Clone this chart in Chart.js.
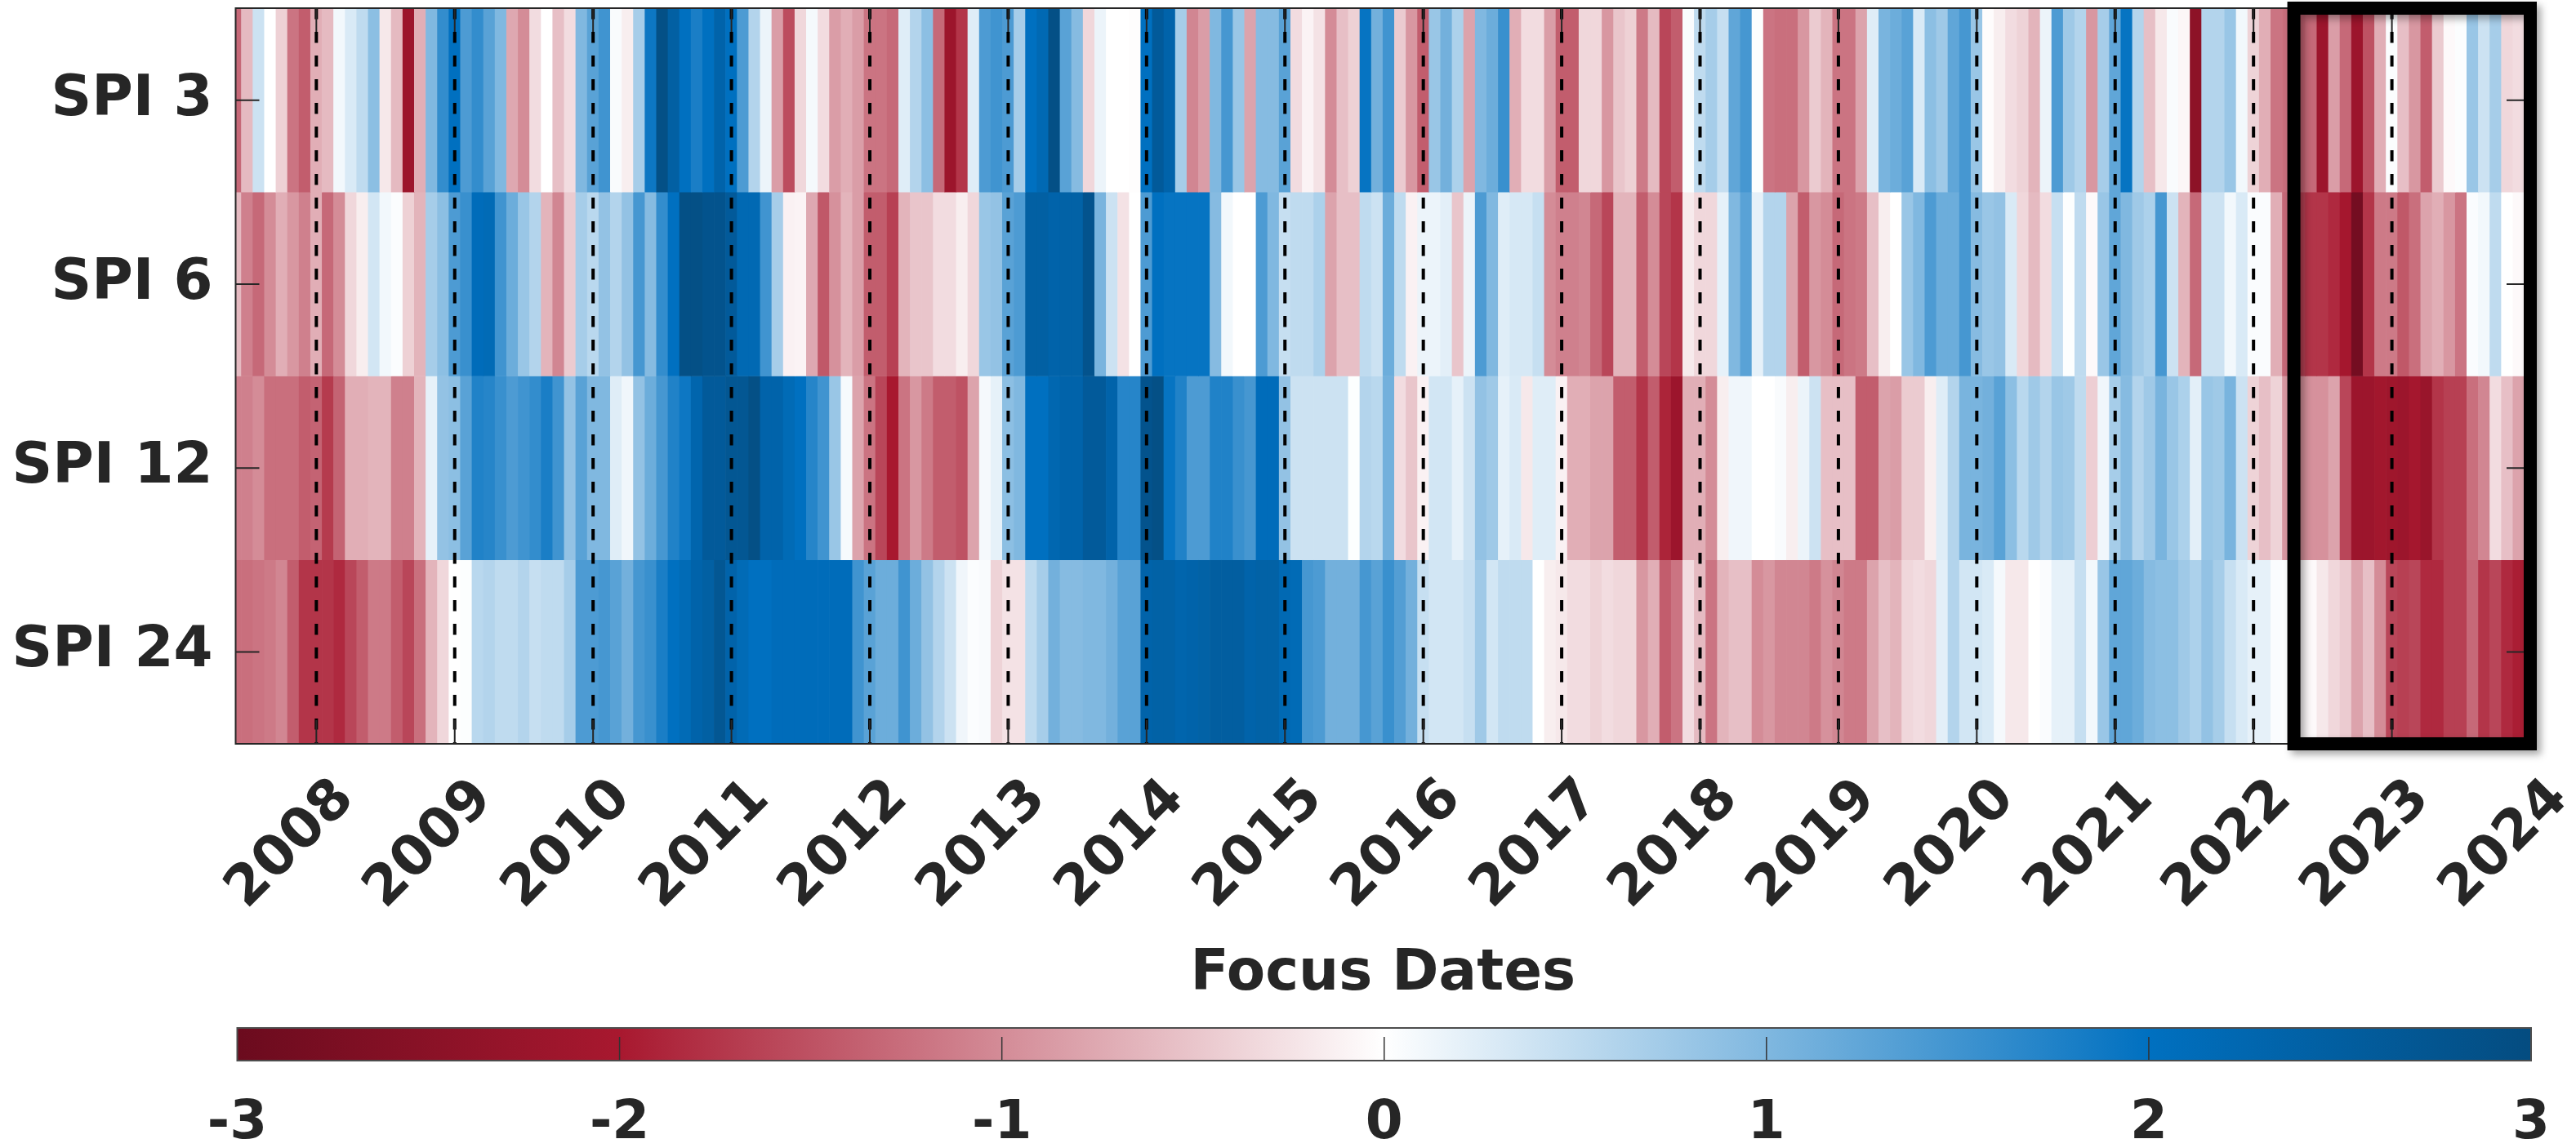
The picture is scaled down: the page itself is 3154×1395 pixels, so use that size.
<!DOCTYPE html>
<html>
<head>
<meta charset="utf-8">
<title>SPI heatmap</title>
<script src="https://cdn.jsdelivr.net/npm/chart.js@4.4.0/dist/chart.umd.min.js"></script>
<style>
  html, body { margin: 0; padding: 0; background: #ffffff; }
  #page { position: relative; width: 3154px; height: 1395px; overflow: hidden; }
  #mainBox { position: absolute; left: 0; top: 0; width: 3154px; height: 1240px; }
  #barBox { position: absolute; left: 0; top: 1240px; width: 3154px; height: 155px; }
</style>
</head>
<body>
<div id="page">
  <div id="mainBox"><canvas id="main" width="3154" height="1240"></canvas></div>
  <div id="barBox"><canvas id="bar" width="3154" height="155"></canvas></div>
</div>
<script>
// ---- data -------------------------------------------------------------
const rowLabels = ['SPI 3', 'SPI 6', 'SPI 12', 'SPI 24'];
const yearLabels = ['2008', '2009', '2010', '2011', '2012', '2013', '2014', '2015',
  '2016', '2017', '2018', '2019', '2020', '2021', '2022', '2023', '2024'];
const firstYear = 2007;      // column 0 is June 2007
const firstMonth = 6;
const highlightYear = 2022;  // boxed period starts May 2022
const highlightMonth = 5;
const colorbarTicks = [-3, -2, -1, 0, 1, 2, 3];

// monthly SPI values, June 2007 .. December 2023
const spi3 = [
  -1.3, -0.6, 0.4, 0.0, -0.4, -1.2, -1.4, -0.7, -0.6, 0.1, 0.3, 0.5, 0.9, -0.2, -0.6, -2.2, -0.7, 1.0, 1.6, 2.0,
  1.4, 1.6, 1.3, 1.0, -0.75, -1.0, -0.3, 0.0, -0.55, -0.3, 1.0, 1.3, 1.5, 0.05, -0.15, 0.7, 1.9, 2.9, 2.45, 2.0,
  1.8, 2.0, 2.35, 2.0, 1.4, 0.6, 0.15, -0.85, -1.55, -0.35, 0.08, -0.3, -0.85, -0.7, -0.85, -1.2, -1.2, -1.3, 0.25, 0.6,
  0.9, -1.3, -2.2, -1.75, 0.25, 1.4, 1.5, 1.4, 0.7, 2.0, 2.2, 2.9, 1.3, 0.95, -0.35, 0.15, 0.0, 0.0, -0.02, 2.0,
  2.6, 2.35, 0.7, -1.05, -0.85, 1.0, 1.45, 0.8, -0.8, 0.95, 0.95, 1.3, -0.3, -0.1, -0.25, -1.0, -0.55, -0.4, 1.95, 1.1,
  1.5, -0.45, -0.9, -1.4, 0.8, 1.1, 0.65, -0.8, 1.0, 1.15, 1.55, -0.7, -0.3, -0.3, -0.85, -1.4, -1.4, -0.35, -0.35, -0.9,
  -0.5, -0.4, -1.15, -0.6, -1.6, -1.4, 0.05, 0.5, 0.7, 0.45, 1.25, 1.45, 0.02, -1.2, -1.25, -1.25, -0.9, -0.45, -0.65, -1.2,
  -1.2, -0.8, 0.25, 1.05, 1.15, 1.3, 0.3, 0.9, 0.75, 1.25, 1.45, 0.8, -0.03, -0.15, -0.3, -0.38, -0.65, 0.15, 1.4, 0.75,
  0.6, -0.9, 0.7, 1.25, 1.95, 0.6, -0.55, -0.2, 0.05, -0.08, -2.45, 0.6, 0.6, 0.8, 0.1, -0.38, -0.7, -1.2, -1.25, -1.35,
  -1.3, -2.2, -0.85, -1.3, -2.2, -1.5, -0.7, 0.03, -0.55, -0.9, -1.4, -0.45, -0.05, 0.03, 0.8, 0.4, 0.7, -0.35, -0.3
];
const spi6 = [
  -0.6, -1.1, -1.3, -1.0, -0.7, -0.9, -1.1, -0.7, -1.3, -1.0, -0.35, -0.15, 0.35, 0.1, 0.03, -0.4, -0.65, 0.7, 0.9, 1.4,
  1.55, 2.1, 2.15, 1.5, 1.15, 0.8, 0.6, -0.65, -1.05, -0.45, 0.7, 0.55, 0.85, 0.6, 0.85, 1.45, 0.95, 1.6, 2.0, 2.9,
  2.9, 2.8, 2.8, 2.6, 2.2, 2.2, 1.5, 0.7, -0.12, -0.1, -0.75, -1.45, -0.95, -0.65, -0.85, -1.4, -1.4, -1.65, -0.65, -0.5,
  -0.5, -0.3, -0.3, -0.15, -0.35, 0.8, 0.85, 1.3, 1.4, 2.45, 2.45, 2.35, 2.4, 2.4, 2.8, 1.05, 0.4, -0.25, 0.0, 1.4,
  2.0, 1.95, 1.95, 1.95, 1.95, 0.95, 0.1, 0.0, 0.0, 1.4, 1.0, 0.45, 0.5, 0.5, 0.65, -0.8, -0.55, -0.55, 0.5, 0.4,
  1.15, 0.5, -0.12, 0.15, 0.15, 0.22, -0.5, 0.15, 1.4, 1.0, 0.25, 0.32, 0.32, 0.45, -1.0, -1.1, -1.1, -1.05, -1.3, -1.6,
  -0.65, -0.65, -1.4, -1.0, -1.6, -1.75, -0.18, -0.35, -0.35, 0.2, 1.0, 1.3, 0.2, 0.6, 0.6, -0.8, -1.4, -0.9, -1.0, -1.3,
  -1.2, -1.15, -0.55, -0.15, 0.0, 0.8, 1.0, 1.4, 1.15, 1.15, 1.45, 0.95, 0.8, 0.85, 0.3, -0.35, -0.6, -0.3, 0.45, 0.02,
  0.5, -0.05, 0.8, 1.25, 1.0, 0.75, 0.65, 1.45, 0.4, -0.65, -1.3, 0.4, 0.4, 0.1, 0.3, 0.04, 0.04, -0.7, -1.3, -1.65,
  -1.75, -1.75, -1.85, -2.05, -2.85, -1.75, -1.15, -1.15, -1.45, -1.25, -0.8, -0.7, -0.9, -1.2, 0.04, 0.1, 0.5, 0.0, -0.05
];
const spi12 = [
  -1.1, -1.1, -1.0, -1.25, -1.25, -1.25, -1.4, -1.35, -1.7, -1.35, -0.7, -0.7, -0.65, -0.65, -1.1, -1.1, -0.65, 0.2, 0.85, 0.9,
  1.3, 1.75, 1.7, 1.55, 1.4, 1.5, 1.6, 1.8, 1.5, 0.85, 1.3, 1.0, 1.0, 0.25, 0.12, 0.85, 1.15, 1.45, 1.75, 1.9,
  2.3, 2.6, 2.6, 2.7, 2.7, 2.9, 2.35, 2.35, 2.15, 2.0, 1.7, 1.5, 0.8, 0.07, -0.8, -1.2, -1.6, -2.0, -1.2, -0.9,
  -1.15, -1.4, -1.4, -1.5, -0.8, 0.08, 0.2, 0.9, 1.0, 2.0, 2.0, 2.25, 2.35, 2.35, 2.6, 2.6, 2.35, 1.7, 1.7, 2.8,
  2.9, 1.95, 1.75, 1.4, 1.4, 1.75, 1.75, 1.55, 1.45, 2.1, 2.1, 0.85, 0.4, 0.4, 0.4, 0.4, 0.4, 0.02, 0.6, 0.55,
  1.1, -0.3, -0.5, -0.12, 0.35, 0.35, 0.2, 0.4, 0.85, 0.75, 0.2, 0.3, -0.2, 0.25, 0.25, -0.12, -0.7, -0.7, -0.8, -0.8,
  -1.4, -1.4, -1.75, -1.4, -1.9, -2.2, -0.7, -0.7, -1.0, -0.15, 0.12, 0.12, 0.0, 0.0, 0.05, -0.15, 0.15, 0.4, -0.55, -0.55,
  -0.55, -1.4, -1.4, -0.8, -0.85, -0.45, -0.45, -0.15, 0.25, 0.6, 1.05, 1.05, 1.1, 1.3, 0.9, 0.55, 0.75, 0.6, 0.8, 0.75,
  0.5, -0.42, 0.12, 0.7, 0.95, 0.6, 0.75, 1.05, 0.8, 0.65, 0.22, 0.8, 0.75, 1.05, 0.4, -0.38, -0.55, -0.38, -0.9, -0.95,
  -0.95, -0.95, -0.8, -1.6, -2.2, -2.2, -2.1, -2.15, -2.2, -2.05, -2.25, -1.75, -1.65, -1.65, -1.25, -1.05, -0.3, -0.55, -0.8
];
const spi24 = [
  -1.25, -1.25, -1.2, -1.15, -1.05, -1.4, -1.75, -1.75, -1.75, -1.85, -1.6, -1.4, -1.15, -1.15, -1.4, -1.6, -1.25, -0.65, -0.35, 0.0,
  0.02, 0.55, 0.6, 0.5, 0.5, 0.6, 0.45, 0.5, 0.5, 0.7, 1.4, 1.4, 1.45, 1.3, 1.1, 1.45, 1.55, 1.8, 2.0, 2.15,
  2.35, 2.45, 2.7, 2.35, 2.15, 2.0, 2.0, 2.1, 2.1, 2.1, 2.1, 2.1, 2.1, 2.1, 1.5, 1.3, 1.15, 1.15, 1.5, 1.15,
  0.85, 0.6, 0.4, 0.12, 0.03, 0.05, -0.38, -0.25, -0.25, 0.5, 0.7, 1.1, 0.95, 0.95, 1.0, 1.0, 1.1, 1.3, 1.3, 2.35,
  2.4, 2.4, 2.3, 2.35, 2.4, 2.5, 2.5, 2.5, 2.35, 2.4, 2.4, 2.2, 2.15, 1.45, 1.4, 1.1, 1.1, 1.1, 1.45, 1.3,
  1.55, 1.35, 1.1, 0.45, 0.35, 0.35, 0.35, 0.45, 0.75, 0.35, 0.5, 0.5, 0.5, 0.0, -0.15, -0.2, -0.3, -0.3, -0.38, -0.3,
  -0.35, -0.35, -0.9, -0.7, -1.4, -1.2, -0.3, -0.6, -1.2, -0.65, -0.55, -0.55, -1.0, -0.9, -1.05, -1.05, -1.05, -1.15, -0.95, -1.05,
  -1.15, -1.15, -0.8, -0.55, -0.65, -0.35, -0.3, -0.35, 0.22, 0.6, 0.35, 0.35, 0.3, 0.08, -0.2, -0.2, 0.0, 0.04, 0.2, 0.2,
  0.45, 0.1, 0.8, 1.25, 1.25, 1.15, 0.95, 0.9, 0.9, 0.75, 0.65, 0.85, 0.7, 0.45, 0.3, 0.2, 0.2, 0.04, 0.03, -0.05,
  -0.05, -0.2, -0.35, -0.45, -0.8, -0.55, -1.0, -1.6, -1.65, -1.6, -1.85, -1.85, -1.65, -1.65, -1.3, -1.75, -1.6, -1.85, -1.95
];
const rows = [spi3, spi6, spi12, spi24];

// ---- helpers ----------------------------------------------------------
function monthIndex(year, month) {
  return (year - firstYear) * 12 + (month - firstMonth);
}
const yearTicks = yearLabels.map(lbl => ({ value: monthIndex(Number(lbl), 1), label: lbl }));
const xMax = yearTicks[yearTicks.length - 1].value;
const boxStart = monthIndex(highlightYear, highlightMonth) - 0.5;

// diverging red-white-blue colour scale for SPI
const cmap = [
  [-3, [107, 11, 30]],
  [-2, [168, 24, 47]],
  [0, [255, 255, 255]],
  [2, [0, 112, 192]],
  [3, [4, 76, 128]]
];
function colorFor(v) {
  const c = Math.max(-3, Math.min(3, v));
  for (let i = 0; i < cmap.length - 1; i++) {
    const [v0, c0] = cmap[i];
    const [v1, c1] = cmap[i + 1];
    if (c <= v1) {
      const t = (c - v0) / (v1 - v0);
      const rgb = c0.map((ch, k) => Math.round(ch + (c1[k] - ch) * t));
      return `rgb(${rgb[0]},${rgb[1]},${rgb[2]})`;
    }
  }
  const last = cmap[cmap.length - 1][1];
  return `rgb(${last[0]},${last[1]},${last[2]})`;
}

const FONT = '"DejaVu Sans", "Liberation Sans", sans-serif';
const INK = '#262626';

// ---- heatmap ----------------------------------------------------------
const datasets = rows.map((vals, r) => ({
  label: rowLabels[r],
  data: vals.map((v, i) => ({ x: [i - 0.5, i + 0.5], y: rowLabels[r], v })),
  backgroundColor: ctx => (ctx.raw ? colorFor(ctx.raw.v) : '#fff'),
  borderWidth: 0,
  borderSkipped: false,
  barPercentage: 1,
  categoryPercentage: 1,
  grouped: false
}));

const overlay = {
  id: 'overlay',
  afterDatasetsDraw(chart) {
    const { ctx, chartArea: a, scales: { x, y } } = chart;
    ctx.save();
    // year separators
    ctx.strokeStyle = '#000';
    ctx.lineWidth = 4;
    ctx.setLineDash([13.5, 15.5]);
    yearTicks.forEach(t => {
      if (t.value >= x.max) return;
      const px = x.getPixelForValue(t.value);
      ctx.beginPath();
      ctx.moveTo(px, a.top);
      ctx.lineTo(px, a.bottom);
      ctx.stroke();
    });
    ctx.setLineDash([]);
    // inner tick marks
    ctx.strokeStyle = INK;
    ctx.lineWidth = 2;
    const tl = 29;
    yearTicks.forEach(t => {
      const px = x.getPixelForValue(t.value);
      ctx.beginPath();
      ctx.moveTo(px, a.bottom); ctx.lineTo(px, a.bottom - tl);
      ctx.moveTo(px, a.top); ctx.lineTo(px, a.top + tl);
      ctx.stroke();
    });
    rowLabels.forEach((lbl, i) => {
      const py = y.getPixelForValue(i);
      ctx.beginPath();
      ctx.moveTo(a.left, py); ctx.lineTo(a.left + tl, py);
      ctx.moveTo(a.right, py); ctx.lineTo(a.right - tl, py);
      ctx.stroke();
    });
    // axes frame
    ctx.lineWidth = 2;
    ctx.strokeRect(a.left, a.top, a.right - a.left, a.bottom - a.top);
    // highlighted period
    const bx0 = x.getPixelForValue(boxStart);
    const bx1 = x.getPixelForValue(xMax);
    ctx.shadowColor = 'rgba(0,0,0,0.35)';
    ctx.shadowBlur = 10;
    ctx.shadowOffsetX = 5;
    ctx.shadowOffsetY = 5;
    ctx.strokeStyle = '#000';
    ctx.lineWidth = 16;
    ctx.strokeRect(bx0, a.top, bx1 - bx0, a.bottom - a.top);
    ctx.restore();
  }
};

new Chart(document.getElementById('main'), {
  type: 'bar',
  data: { labels: rowLabels, datasets },
  options: {
    responsive: false,
    animation: false,
    devicePixelRatio: 1,
    indexAxis: 'y',
    layout: { padding: { left: 0, top: 10, right: 56, bottom: 0 } },
    plugins: { legend: { display: false }, tooltip: { enabled: false } },
    scales: {
      x: {
        type: 'linear',
        min: 0,
        max: xMax,
        grid: { display: false },
        border: { display: false },
        afterBuildTicks: s => { s.ticks = yearTicks.map(t => ({ value: t.value })); },
        afterFit: s => { s.height = 329; s.paddingLeft = 0; s.paddingRight = 0; },
        ticks: {
          autoSkip: false,
          minRotation: 45,
          maxRotation: 45,
          padding: 20,
          labelOffset: 36,
          color: INK,
          font: { family: FONT, weight: 'bold', size: 68 },
          callback: v => {
            const t = yearTicks.find(k => k.value === v);
            return t ? t.label : '';
          }
        },
        title: {
          display: true,
          text: 'Focus Dates',
          color: INK,
          font: { family: FONT, weight: 'bold', size: 69 },
          padding: { top: 0, bottom: 5 }
        }
      },
      y: {
        type: 'category',
        grid: { display: false },
        border: { display: false },
        afterFit: s => { s.width = 288.5; s.paddingTop = 0; s.paddingBottom = 0; },
        ticks: {
          padding: 20,
          color: INK,
          font: { family: FONT, weight: 'bold', size: 69 }
        }
      }
    }
  },
  plugins: [overlay]
});

// ---- colour bar -------------------------------------------------------
const colorbarFrame = {
  id: 'colorbarFrame',
  afterDatasetsDraw(chart) {
    const { ctx, chartArea: a, scales: { x } } = chart;
    ctx.save();
    ctx.strokeStyle = '#333';
    ctx.lineWidth = 1.5;
    colorbarTicks.forEach(v => {
      if (v === x.min || v === x.max) return;
      const px = x.getPixelForValue(v);
      ctx.beginPath();
      ctx.moveTo(px, a.bottom); ctx.lineTo(px, a.bottom - 29);
      ctx.stroke();
    });
    ctx.strokeStyle = '#4d4d4d';
    ctx.lineWidth = 2;
    ctx.strokeRect(a.left, a.top, a.right - a.left, a.bottom - a.top);
    ctx.restore();
  }
};

function gradientFill(context) {
  const chart = context.chart;
  const x = chart.scales.x;
  if (!chart.chartArea || !x) return '#fff';
  const x0 = x.getPixelForValue(x.min);
  const x1 = x.getPixelForValue(x.max);
  const g = chart.ctx.createLinearGradient(x0, 0, x1, 0);
  const span = x.max - x.min;
  cmap.forEach(([v, c]) => g.addColorStop((v - x.min) / span, `rgb(${c[0]},${c[1]},${c[2]})`));
  return g;
}

new Chart(document.getElementById('bar'), {
  type: 'bar',
  data: {
    labels: ['SPI'],
    datasets: [{
      data: [{ x: [colorbarTicks[0], colorbarTicks[colorbarTicks.length - 1]], y: 'SPI' }],
      backgroundColor: gradientFill,
      borderWidth: 0,
      barPercentage: 1,
      categoryPercentage: 1
    }]
  },
  options: {
    responsive: false,
    animation: false,
    devicePixelRatio: 1,
    indexAxis: 'y',
    layout: { padding: { left: 290.5, right: 55, top: 19, bottom: 0 } },
    plugins: { legend: { display: false }, tooltip: { enabled: false } },
    scales: {
      x: {
        type: 'linear',
        min: colorbarTicks[0],
        max: colorbarTicks[colorbarTicks.length - 1],
        grid: { display: false },
        border: { display: false },
        afterBuildTicks: s => { s.ticks = colorbarTicks.map(v => ({ value: v })); },
        afterFit: s => { s.height = 96; s.paddingLeft = 0; s.paddingRight = 0; },
        ticks: {
          autoSkip: false,
          maxRotation: 0,
          padding: 30,
          color: INK,
          font: { family: FONT, weight: 'bold', size: 66 },
          callback: v => String(v)
        }
      },
      y: { display: false }
    }
  },
  plugins: [colorbarFrame]
});
</script>
</body>
</html>
